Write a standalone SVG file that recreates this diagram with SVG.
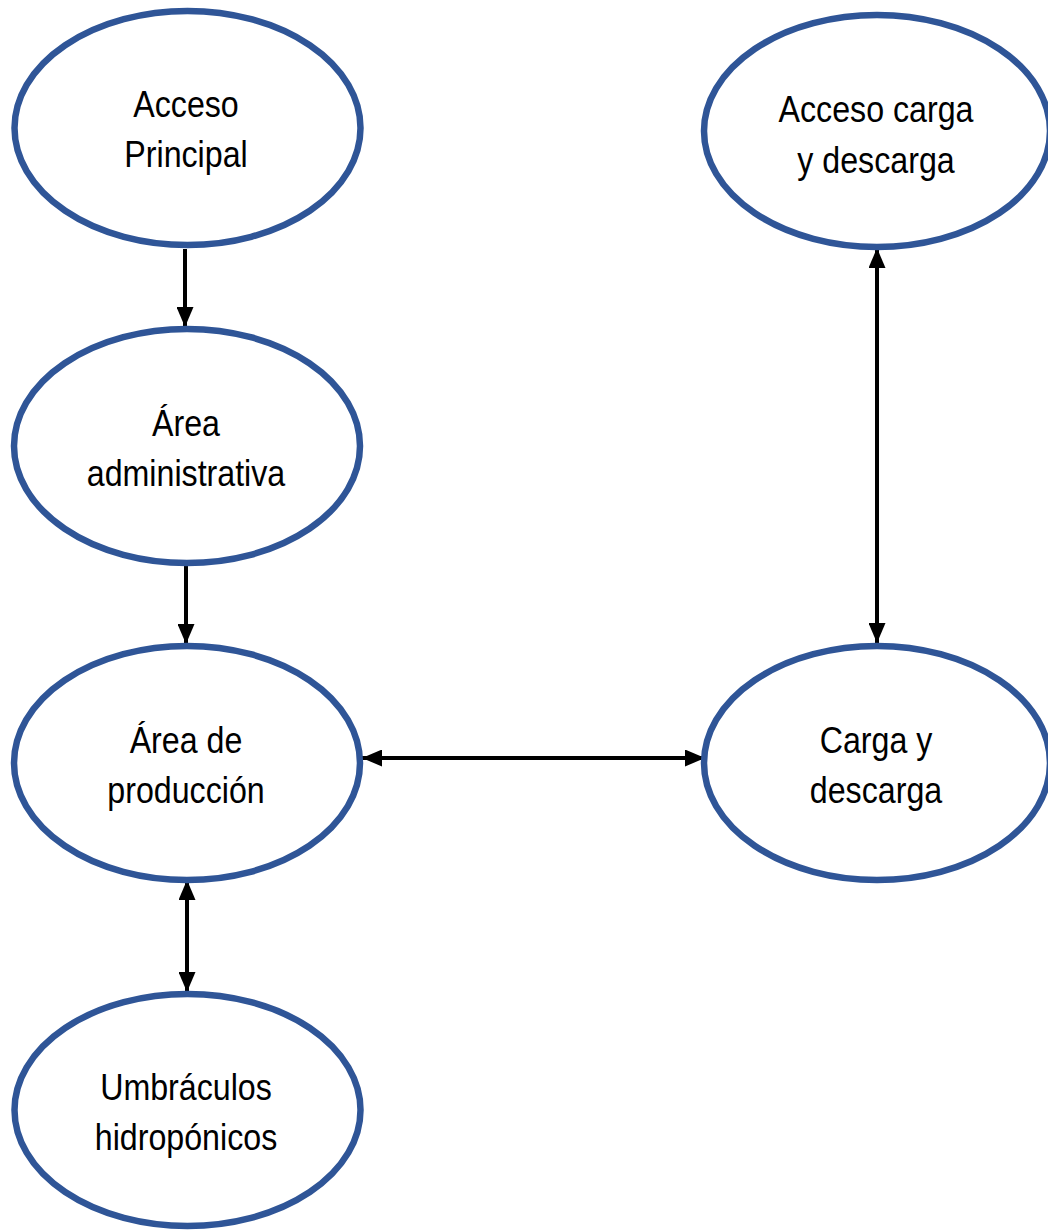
<svg xmlns="http://www.w3.org/2000/svg" width="1048" height="1230" viewBox="0 0 1048 1230">
<style>
.node ellipse{fill:#fff;stroke:#2F5597;stroke-width:6.5}
.node text{font-family:"Liberation Sans",Arial,sans-serif;font-size:37px;fill:#000;text-anchor:middle}
.conn line{stroke:#000;stroke-width:4}
</style>
<defs>
<marker id="ah" markerUnits="userSpaceOnUse" markerWidth="20" markerHeight="17" viewBox="0 0 20 17" refX="20" refY="8.5" orient="auto-start-reverse">
<path d="M0,0 L20,8.5 L0,17 Z" fill="#000"/>
</marker>
</defs>
<rect width="1048" height="1230" fill="#fff"/>
<g class="conn">
<line x1="185" y1="249" x2="185" y2="327" marker-end="url(#ah)"/>
<line x1="186" y1="565" x2="186" y2="644" marker-end="url(#ah)"/>
<line x1="187" y1="880" x2="187" y2="992" marker-start="url(#ah)" marker-end="url(#ah)"/>
<line x1="362" y1="758" x2="705" y2="758" marker-start="url(#ah)" marker-end="url(#ah)"/>
<line x1="877" y1="248" x2="877" y2="643" marker-start="url(#ah)" marker-end="url(#ah)"/>
</g>
<g id="acceso-principal" class="node">
<ellipse cx="187.5" cy="128" rx="173" ry="117"/>
<g transform="translate(186,0) scale(0.87,1)"><text x="0" y="117">Acceso</text><text x="0" y="167">Principal</text></g>
</g>
<g id="acceso-carga" class="node">
<ellipse cx="877" cy="131" rx="173" ry="116"/>
<g transform="translate(876,0) scale(0.87,1)"><text x="0" y="122">Acceso carga</text><text x="0" y="173">y descarga</text></g>
</g>
<g id="area-administrativa" class="node">
<ellipse cx="187" cy="446" rx="173" ry="117"/>
<g transform="translate(186,0) scale(0.87,1)"><text x="0" y="436">Área</text><text x="0" y="486">administrativa</text></g>
</g>
<g id="area-produccion" class="node">
<ellipse cx="187" cy="763" rx="173" ry="117"/>
<g transform="translate(186,0) scale(0.87,1)"><text x="0" y="753">Área de</text><text x="0" y="803">producción</text></g>
</g>
<g id="carga-descarga" class="node">
<ellipse cx="877" cy="763" rx="173" ry="117"/>
<g transform="translate(876,0) scale(0.87,1)"><text x="0" y="753">Carga y</text><text x="0" y="803">descarga</text></g>
</g>
<g id="umbraculos" class="node">
<ellipse cx="187.5" cy="1110" rx="173" ry="116"/>
<g transform="translate(186,0) scale(0.87,1)"><text x="0" y="1100">Umbráculos</text><text x="0" y="1150">hidropónicos</text></g>
</g>
</svg>
